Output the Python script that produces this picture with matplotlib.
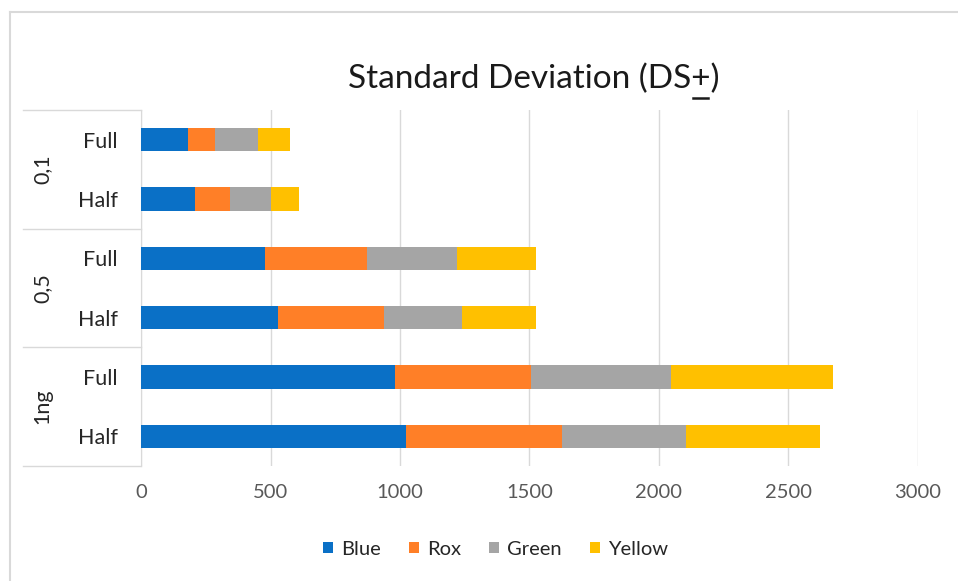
import matplotlib.pyplot as plt
from matplotlib.lines import Line2D
from matplotlib.transforms import blended_transform_factory

plt.rcParams['font.family'] = ['Lato', 'DejaVu Sans']

groups = ['0,1', '0,5', '1ng']
levels = ['Full', 'Half']
series = ['Blue', 'Rox', 'Green', 'Yellow']
blue = [180, 208, 479, 529, 982, 1022]
rox = [105, 135, 395, 409, 524, 603]
green = [165, 160, 346, 303, 539, 479]
yellow = [124, 108, 306, 285, 627, 516]
colors = ['#0A70C6', '#FF7F27', '#A5A5A5', '#FFC000']

fig = plt.figure(figsize=(9.58, 5.81), dpi=100)
ax = fig.add_axes([0.1472, 0.198, 0.811, 0.6127])

labels = [lv for g in groups for lv in levels]
pos = list(range(len(labels)))
left = [0] * len(labels)
for name, vals, c in zip(series, [blue, rox, green, yellow], colors):
    ax.barh(pos, vals, left=left, height=0.39, color=c, label=name, zorder=3)
    left = [a + b for a, b in zip(left, vals)]

ax.set_xlim(0, 3000)
ax.set_xticks(range(0, 3001, 500))
ax.set_ylim(5.5, -0.5)
ax.set_yticks(pos)
ax.set_yticklabels(labels)
ax.grid(axis='x', color='#D9D9D9', linewidth=1, zorder=0)
for s in ['top', 'right', 'bottom']:
    ax.spines[s].set_visible(False)
ax.spines['left'].set_color('#D9D9D9')
ax.tick_params(axis='x', length=0, pad=13, labelsize=14.5, labelcolor='#595959')
ax.tick_params(axis='y', length=0, pad=17, labelsize=15.5, labelcolor='#262626')

# multi-level category box
tr = blended_transform_factory(ax.transAxes, ax.transData)
for y in [-0.5, 1.5, 3.5, 5.5]:
    ax.add_line(Line2D([-0.152, 0], [y, y], transform=tr, color='#D9D9D9',
                       linewidth=1, clip_on=False))
for i, g in enumerate(groups):
    ax.text(-0.127, 2 * i + 0.5, g, transform=tr, rotation=90, ha='center',
            va='center', fontsize=15.5, color='#262626')

# chart border (only top and left visible)
fig.add_artist(Line2D([10 / 958, 1], [1 - 12 / 581] * 2, color='#D9D9D9', linewidth=1.5))
fig.add_artist(Line2D([10 / 958] * 2, [0, 1 - 12 / 581], color='#D9D9D9', linewidth=1.5))

# title with underlined plus sign
title = 'Standard Deviation (DS+)'
tsize = 24
tx, ty = 0.557, 1 - 88 / 581
t = fig.text(tx, ty, title, ha='center', va='baseline', fontsize=tsize, color='#1A1A1A')
fig.canvas.draw()
r = fig.canvas.get_renderer()
bb = t.get_window_extent(r)
pre = fig.text(0, 0, 'Standard Deviation (DS', fontsize=tsize)
plus = fig.text(0, 0, '+', fontsize=tsize)
w_pre = pre.get_window_extent(r).width
w_plus = plus.get_window_extent(r).width
pre.remove()
plus.remove()
x0 = (bb.x0 + w_pre) / fig.bbox.width
x1 = (bb.x0 + w_pre + w_plus) / fig.bbox.width
uy = 1 - 98 / 581
fig.add_artist(Line2D([x0 + 0.002, x1 - 0.002], [uy, uy], color='#1A1A1A', linewidth=1.8))

fig.legend(loc='center', bbox_to_anchor=(0.517, 0.055), ncol=4, frameon=False,
           handlelength=0.5, handleheight=0.5, handletextpad=0.4, columnspacing=1.4,
           fontsize=14.5, labelcolor='#262626')

fig.savefig('out.png', dpi=100)
